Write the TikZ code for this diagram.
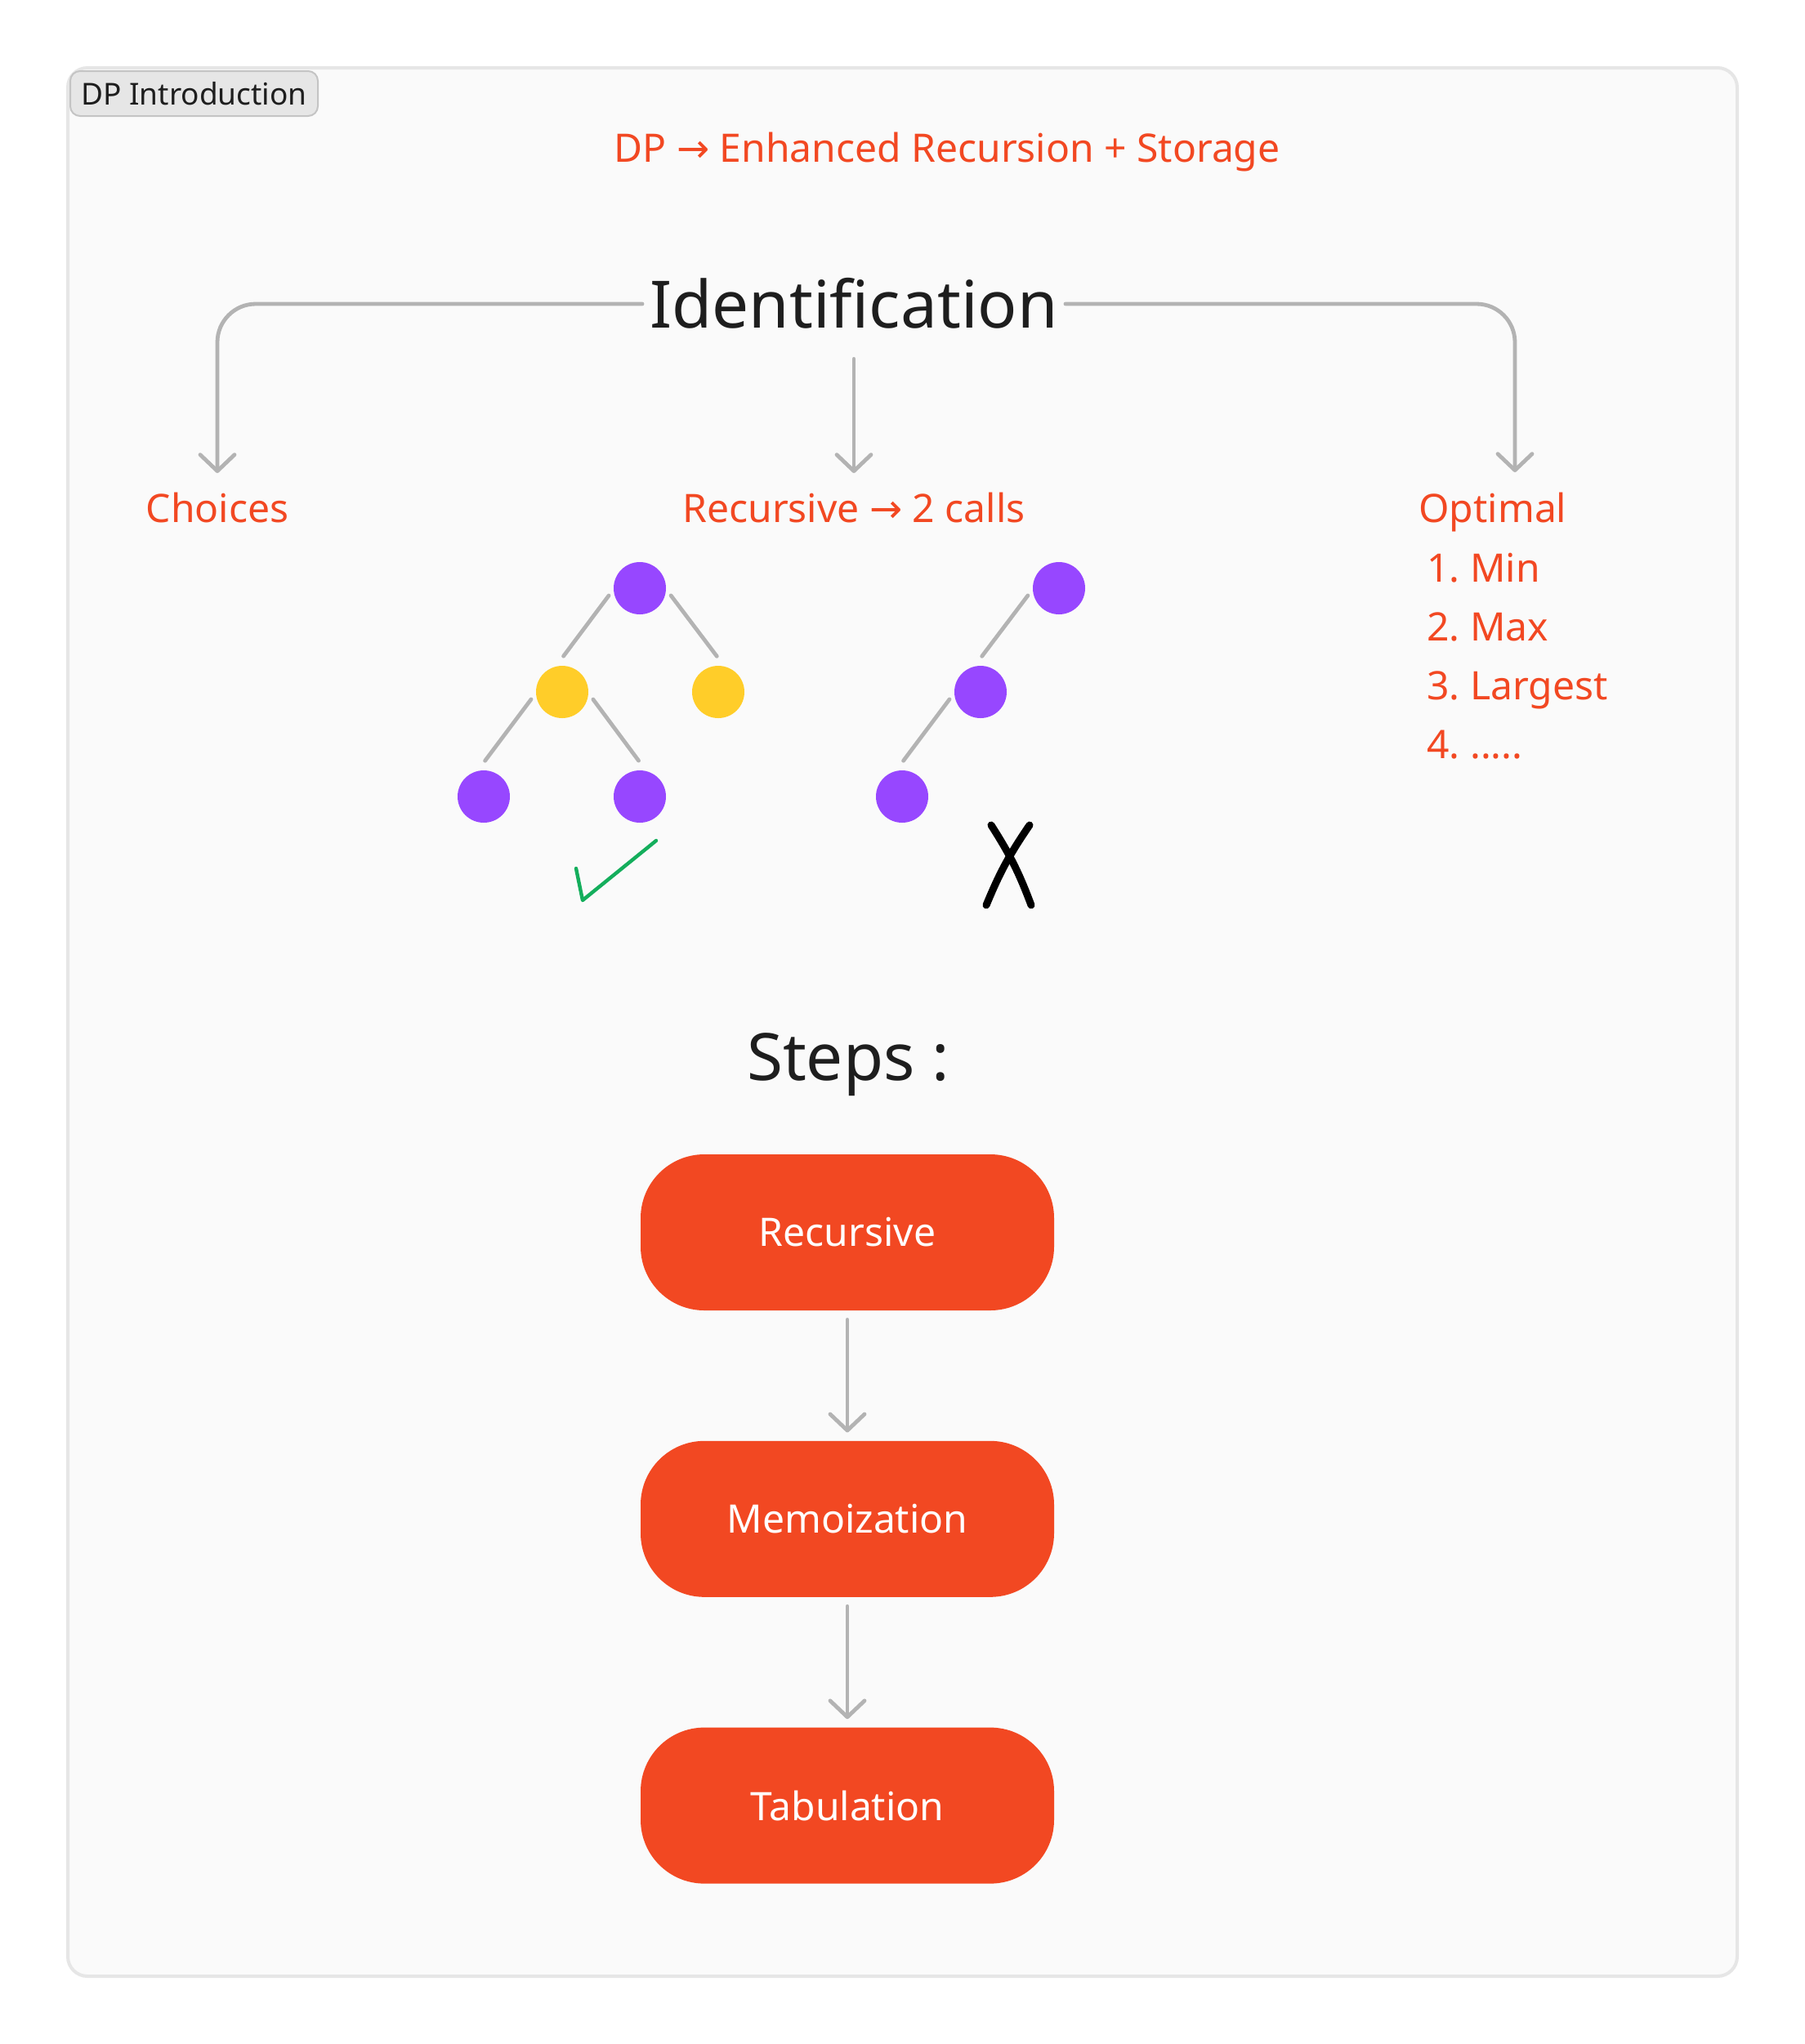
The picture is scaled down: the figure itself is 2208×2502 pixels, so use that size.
\documentclass[tikz,border=0pt]{standalone}
\usepackage{fontspec}
\setmainfont{Noto Sans}
\newfontfamily\symfont{DejaVu Sans}
\usetikzlibrary{arrows.meta, positioning}

\definecolor{dporange}{HTML}{F24822}
\definecolor{dppurple}{HTML}{9747FF}
\definecolor{dpyellow}{HTML}{FFCD29}
\definecolor{dpgreen}{HTML}{14AE5C}
\definecolor{linegray}{HTML}{B3B3B3}
\definecolor{panelbg}{HTML}{FAFAFA}
\definecolor{framegray}{HTML}{E6E6E6}
\definecolor{tabgray}{HTML}{E6E6E6}
\definecolor{tabline}{HTML}{C4C4C4}
\definecolor{inkdark}{HTML}{1E1E1E}

\newcommand{\rarr}{{\symfont →}}
\newcommand{\fivedots}{.....}

\begin{document}
\begin{tikzpicture}[
    x=0.5pt, y=-0.5pt,
    >={Straight Barb[length=10pt,width=21pt,round]},
    % Styles
    frame/.style={draw=framegray, line width=2pt, fill=panelbg, rounded corners=12pt},
    tabnode/.style={draw=tabline, line width=1pt, fill=tabgray, rounded corners=6pt, minimum width=151.5pt, minimum height=27.5pt, inner sep=0pt, text=inkdark, font=\fontsize{18.5pt}{22pt}\selectfont},
    bigtext/.style={text=inkdark, font=\fontsize{40pt}{48pt}\selectfont},
    lbl/.style={text=dporange, font=\fontsize{24pt}{29pt}\selectfont, inner sep=0pt, text height=17.5pt, text depth=0pt, outer ysep=12.5pt},
    conn/.style={draw=linegray, line width=2.4pt, line cap=round, rounded corners=23.5pt, ->},
    flow/.style={conn, shorten <=5.5pt, shorten >=5pt},
    edge/.style={draw=linegray, line width=2.4pt, line cap=round, shorten <=15pt, shorten >=18pt},
    pnode/.style={circle, fill=dppurple, minimum size=32pt, inner sep=0pt},
    ynode/.style={circle, fill=dpyellow, minimum size=32pt, inner sep=0pt},
    stepbox/.style={rectangle, fill=dporange, rounded corners=39pt, minimum width=253pt, minimum height=95.5pt, text=white, font=\fontsize{24pt}{29pt}\selectfont}
  ]

  \fill[white] (0,0) rectangle (2208,2502);
  \useasboundingbox (0,0) rectangle (2208,2502);

  % --- PANEL ---
  \draw[frame] (83,83) rectangle (2126,2419);
  \node[tabnode] (tab) at (237.5,114.5) {DP Introduction};

  \node[anchor=base, text=dporange, font=\fontsize{24pt}{29pt}\selectfont] (title) at (1159,198) {DP \rarr{} Enhanced Recursion + Storage};

  % --- IDENTIFICATION ---
  \node[bigtext, anchor=base, inner xsep=4.5pt, inner ysep=19pt, text height=29pt, text depth=0pt] (ident) at (1045,401) {Identification};

  \node[lbl, anchor=base] (choices) at (266,639) {Choices};
  \node[lbl, anchor=base] (calls) at (1045,639) {Recursive \rarr{} 2 calls};
  \node[lbl, anchor=base west] (optimal) at (1736,639) {Optimal};
  \coordinate (optarr) at (1854,578);

  \foreach \i/\t in {1/Min, 2/Max, 3/Largest, 4/\fivedots}
    \node[lbl, anchor=base west] (opt\i) at (1746,640+72*\i) {\i.\ \t};

  \draw[conn] (ident.west) -| (choices.north);
  \draw[conn] (ident.south) -- (calls.north);
  \draw[conn] (ident.east) -| (optarr);

  % --- TREES ---
  \node[pnode] (r1) at (783,720) {};
  \node[ynode] (a1) at (688,847) {};
  \node[ynode] (a2) at (879,847) {};
  \node[pnode] (b1) at (592,975) {};
  \node[pnode] (b2) at (783,975) {};

  \node[pnode] (s1) at (1296,720) {};
  \node[pnode] (s2) at (1200,847) {};
  \node[pnode] (s3) at (1104,975) {};

  \foreach \u/\v in {r1/a1, a1/b1, s1/s2, s2/s3}
    \draw[edge] ([shift={(-20,-15)}]\u.center) -- ([shift={(-20,-15)}]\v.center);
  \foreach \u/\v in {r1/a2, a1/b2}
    \draw[edge] ([shift={(20,-15)}]\u.center) -- ([shift={(20,-15)}]\v.center);

  % tick and cross
  \draw[dpgreen, line width=2.2pt, line cap=round, line join=round] (705,1063) -- (713,1102) -- (803,1029);
  \draw[black, line width=4.5pt, line cap=round] (1213,1010) to[bend left=6] (1262,1108);
  \draw[black, line width=4.5pt, line cap=round] (1260,1010) to[bend right=6] (1207,1108);

  % --- STEPS ---
  \node[bigtext, anchor=base] (steps) at (1038,1322) {Steps :};

  \node[stepbox] (rec) at (1037,1508.5) {Recursive};
  \node[stepbox, below=79.5pt of rec] (memo) {Memoization};
  \node[stepbox, below=79.5pt of memo] (tabu) {Tabulation};

  \draw[flow] (rec) -- (memo);
  \draw[flow] (memo) -- (tabu);

\end{tikzpicture}
\end{document}
